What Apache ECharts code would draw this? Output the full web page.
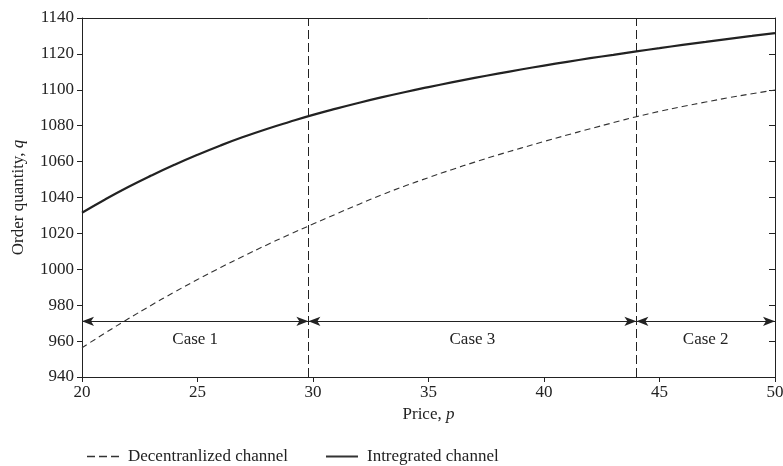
<!DOCTYPE html>
<html>
<head>
<meta charset="utf-8">
<script src="https://cdn.jsdelivr.net/npm/echarts@6/dist/echarts.min.js"></script>
<style>html,body{margin:0;padding:0;background:#fff}#c{width:783px;height:466px}</style>
</head>
<body>
<div id="c"></div>
<script>
// Data
var prices = [20,21,22,23,24,25,26,27,28,29,30,31,32,33,34,35,36,37,38,39,40,41,42,43,44,45,46,47,48,49,50];
var decentralized = [956.3,964.5,972.4,980.0,987.3,994.3,1001.0,1007.4,1013.6,1019.5,1025.2,1030.8,1036.3,1041.6,1046.5,1051.1,1055.5,1059.7,1063.7,1067.5,1071.2,1074.8,1078.3,1081.7,1085.0,1088.0,1090.7,1093.2,1095.6,1097.8,1099.9];
var integrated = [1031.5,1038.9,1045.8,1052.2,1058.2,1063.8,1069.0,1073.8,1078.2,1082.2,1086.0,1089.5,1092.8,1095.9,1098.8,1101.5,1104.1,1106.6,1109.0,1111.3,1113.5,1115.6,1117.6,1119.5,1121.4,1123.2,1125.0,1126.7,1128.4,1130.0,1131.6];
var boundaries = [29.8, 44];
var caseRanges = [[20, 29.8], [29.8, 44], [44, 50]];
var caseNames = ['Case 1', 'Case 3', 'Case 2'];
var arrowLevel = 971;
var xTicks = {min: 20, max: 50, interval: 5};
var yTicks = {min: 940, max: 1140, interval: 20};
var seriesNames = ['Decentranlized channel', 'Intregrated channel'];

var FONT = '"Liberation Serif", "DejaVu Serif", serif';
var TXT = '#222';
var FS = 17;

function pairs(xs, ys){ return xs.map(function(x,i){ return [x, ys[i]]; }); }

var vlines = boundaries.map(function(b){
  return [{coord:[b, yTicks.min]}, {coord:[b, yTicks.max]}];
});
var arrows = caseRanges.map(function(r, i){
  return [{coord:[r[0], arrowLevel], name: caseNames[i]}, {coord:[r[1], arrowLevel]}];
});

var chart = echarts.init(document.getElementById('c'), null, {renderer:'canvas'});
chart.setOption({
  animation: false,
  backgroundColor: '#fff',
  textStyle: {fontFamily: FONT, color: TXT},
  grid: {left: 82, right: 8, top: 18, bottom: 89, outerBoundsMode: 'none', containLabel: false},
  legend: {
    left: 82, top: 443,
    data: [
      {name: seriesNames[0], icon: 'path://M0,0h8v1.4h-8z M12,0h8v1.4h-8z M24,0h8v1.4h-8z'},
      {name: seriesNames[1], icon: 'path://M0,0h32v2.2h-32z'}
    ],
    itemWidth: 32, itemHeight: 10, itemGap: 38,
    itemStyle: {color: '#333', borderWidth: 0},
    textStyle: {fontFamily: FONT, fontSize: FS, color: TXT, padding: [0,0,0,4]}
  },
  xAxis: [{
    type: 'value', min: xTicks.min, max: xTicks.max, interval: xTicks.interval,
    name: 'Price, {i|p}', nameLocation: 'middle', nameGap: 23,
    nameTextStyle: {fontFamily: FONT, fontSize: FS, color: TXT, rich: {i: {fontStyle: 'italic', fontFamily: FONT, fontSize: FS, color: TXT}}},
    axisLine: {lineStyle: {color: '#222', width: 1}},
    axisTick: {inside: false, length: 5, lineStyle: {color: '#222'}},
    axisLabel: {fontFamily: FONT, fontSize: FS, color: TXT, margin: 7, formatter: function(v){ return String(v); }},
    splitLine: {show: false}
  }, {
    type: 'value', position: 'top', min: xTicks.min, max: xTicks.max, interval: xTicks.interval,
    axisLine: {show: true, lineStyle: {color: '#222', width: 1}},
    axisTick: {show: false}, axisLabel: {show: false}, splitLine: {show: false}
  }],
  yAxis: [{
    type: 'value', min: yTicks.min, max: yTicks.max, interval: yTicks.interval,
    name: 'Order quantity, {i|q}', nameLocation: 'middle', nameGap: 55,
    nameTextStyle: {fontFamily: FONT, fontSize: FS, color: TXT, rich: {i: {fontStyle: 'italic', fontFamily: FONT, fontSize: FS, color: TXT}}},
    axisLine: {show: true, lineStyle: {color: '#222', width: 1}},
    axisTick: {show: true, inside: false, length: 5, lineStyle: {color: '#222'}},
    axisLabel: {fontFamily: FONT, fontSize: FS, color: TXT, margin: 8, formatter: function(v){ return String(v); }},
    splitLine: {show: false}
  }, {
    type: 'value', position: 'right', min: yTicks.min, max: yTicks.max, interval: yTicks.interval,
    axisLine: {show: true, lineStyle: {color: '#222', width: 1}},
    axisTick: {show: true, inside: true, length: 6, lineStyle: {color: '#222'}},
    axisLabel: {show: false}, splitLine: {show: false}
  }],
  series: [{
    name: seriesNames[0], type: 'line', data: pairs(prices, decentralized),
    symbol: 'none', smooth: true,
    lineStyle: {color: '#333', width: 1.1, type: [6, 4]},
    itemStyle: {color: '#333'}
  }, {
    name: seriesNames[1], type: 'line', data: pairs(prices, integrated),
    symbol: 'none', smooth: true,
    lineStyle: {color: '#222', width: 2.2, type: 'solid'},
    itemStyle: {color: '#222'}
  }, {
    name: 'bounds', type: 'line', data: [],
    markLine: {
      silent: true, symbol: 'none', animation: false,
      lineStyle: {color: '#222', width: 1, type: [9, 4]},
      label: {show: false},
      data: vlines
    }
  }, {
    name: 'cases', type: 'line', data: [],
    markLine: {
      silent: true, symbol: ['arrow', 'arrow'], symbolSize: [7, 12], animation: false,
      lineStyle: {color: '#222', width: 1, type: 'solid'},
      label: {show: true, position: 'insideMiddleBottom', distance: 10, formatter: '{b}',
        fontFamily: FONT, fontSize: FS, color: TXT},
      data: arrows
    }
  }]
});
</script>
</body>
</html>
